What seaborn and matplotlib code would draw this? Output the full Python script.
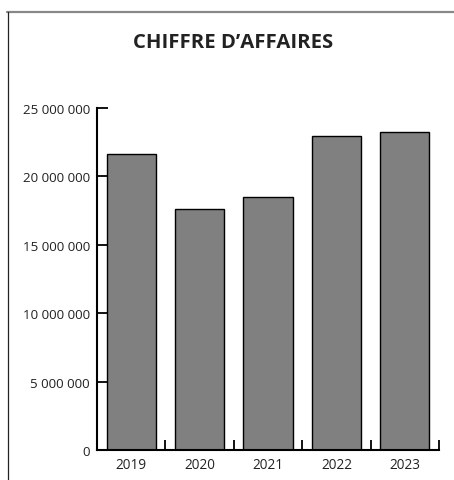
import matplotlib
matplotlib.use("Agg")
import matplotlib.pyplot as plt
import seaborn as sns
import pandas as pd
from matplotlib.lines import Line2D
from matplotlib.ticker import FixedLocator, FuncFormatter

years = ["2019", "2020", "2021", "2022", "2023"]
revenue = [21_620_000, 17_650_000, 18_480_000, 22_940_000, 23_280_000]
title = "CHIFFRE D\u2019AFFAIRES"

sns.set_style("white")
plt.rcParams['font.family'] = ['Open Sans', 'DejaVu Sans']

df = pd.DataFrame({"year": years, "ca": revenue})

fig = plt.figure(figsize=(4.54, 4.81), dpi=100)
ax = fig.add_axes([97/454, 1-451/481, (439-97)/454, (451-109)/481])

sns.barplot(data=df, x="year", y="ca", color="#808080", saturation=1,
            width=0.72, edgecolor="black", linewidth=1, ax=ax)

ax.set_xlim(-0.5, 4.5)
ax.set_ylim(0, 25_000_000)
ax.set_xlabel("")
ax.set_ylabel("")
ax.set_yticks([0, 5e6, 10e6, 15e6, 20e6, 25e6])
ax.yaxis.set_major_formatter(FuncFormatter(lambda v, p: f"{int(v):,}".replace(",", " ")))
ax.tick_params(axis="y", direction="in", length=8, width=1.3, color="black",
               labelsize=9.6, pad=5, labelcolor="#222222", left=True)
ax.tick_params(axis="x", which="major", length=0, labelsize=9.8, pad=5, labelcolor="#222222")
ax.xaxis.set_minor_locator(FixedLocator([0.5, 1.5, 2.5, 3.5, 4.5]))
ax.tick_params(axis="x", which="minor", direction="in", length=7, width=1.3,
               color="black", bottom=True)
for s in ["top", "right"]:
    ax.spines[s].set_visible(False)
for s in ["left", "bottom"]:
    ax.spines[s].set_color("black")
    ax.spines[s].set_linewidth(1.5)

fig.text(233/454, 1-43/481, title, ha="center", va="center",
         fontsize=14.6, fontweight="bold", color="#222222")

# frame lines
fig.add_artist(Line2D([7/454, 1], [1-12.5/481, 1-12.5/481], color="#888888", lw=1.6,
                      transform=fig.transFigure))
fig.add_artist(Line2D([7.5/454, 7.5/454], [0, 1-12.5/481], color="#222222", lw=0.9,
                      transform=fig.transFigure))

fig.savefig("out.png", dpi=100)
